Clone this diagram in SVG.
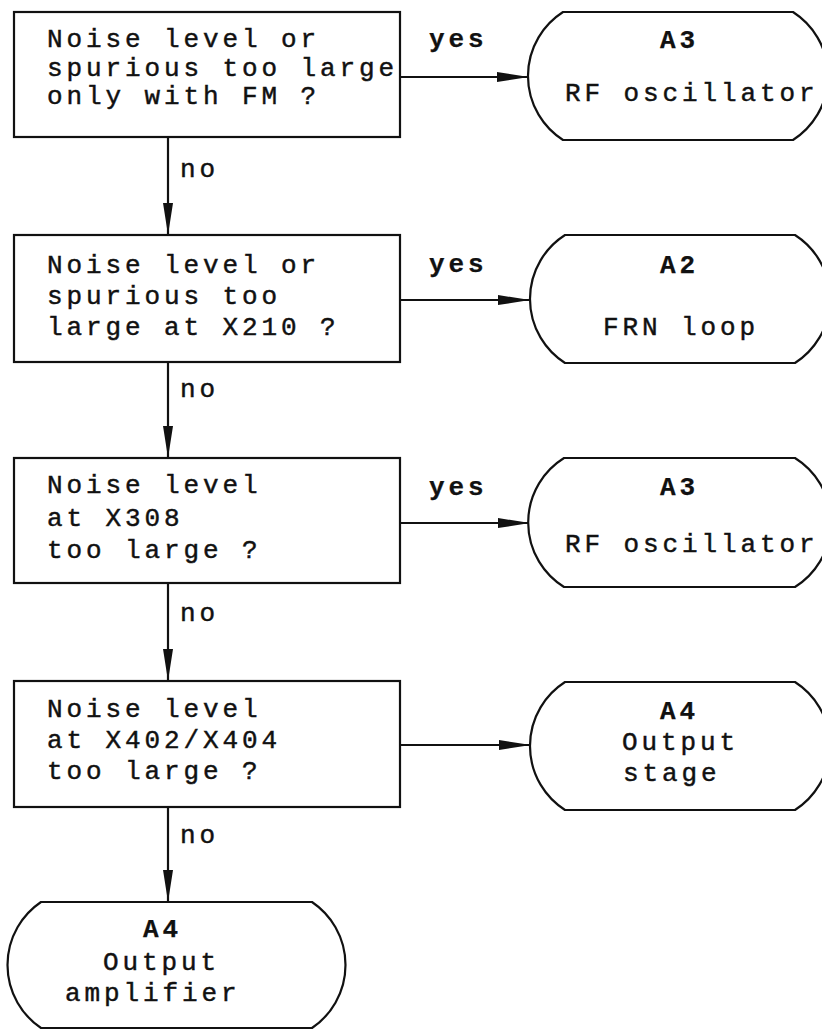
<svg xmlns="http://www.w3.org/2000/svg" width="822" height="1030" viewBox="0 0 822 1030">
<style>
  .box{fill:#fff;stroke:#111;stroke-width:2.2}
  .term{fill:#fff;stroke:#111;stroke-width:2.2}
  .t{font-family:"Liberation Mono","Courier New",monospace;font-size:26px;letter-spacing:3.9px;fill:#111;stroke:#111;stroke-width:0.45}
  .b{font-weight:bold;stroke-width:0.25}
  .edge{stroke:#111;stroke-width:2.2;fill:none}
</style>
<defs>
  <marker id="arr" markerUnits="userSpaceOnUse" markerWidth="34" markerHeight="12" refX="32" refY="6" orient="auto">
    <path d="M0,1 L32,6 L0,11 Z" fill="#111"/>
  </marker>
</defs>
<rect width="822" height="1030" fill="#fff"/>

<g id="connectors">
  <line class="edge" x1="168" y1="137" x2="168" y2="235" marker-end="url(#arr)"/>
  <line class="edge" x1="168" y1="362" x2="168" y2="458" marker-end="url(#arr)"/>
  <line class="edge" x1="168" y1="583" x2="168" y2="681" marker-end="url(#arr)"/>
  <line class="edge" x1="168" y1="807" x2="168" y2="902" marker-end="url(#arr)"/>
  <line class="edge" x1="400" y1="77" x2="529" y2="77" marker-end="url(#arr)"/>
  <line class="edge" x1="400" y1="300" x2="530" y2="300" marker-end="url(#arr)"/>
  <line class="edge" x1="400" y1="523" x2="530" y2="523" marker-end="url(#arr)"/>
  <line class="edge" x1="400" y1="745" x2="531" y2="745" marker-end="url(#arr)"/>
  <text class="t" x="180" y="177">no</text>
  <text class="t" x="180" y="397">no</text>
  <text class="t" x="180" y="621">no</text>
  <text class="t" x="180" y="843">no</text>
  <text class="t b" x="429" y="47">yes</text>
  <text class="t b" x="429" y="272">yes</text>
  <text class="t b" x="429" y="495">yes</text>
</g>

<g id="q1">
  <rect class="box" x="14" y="12" width="386" height="125"/>
  <text class="t" x="47" y="47">Noise level or</text>
  <text class="t" x="47" y="75.5">spurious too large</text>
  <text class="t" x="47" y="104">only with FM ?</text>
</g>
<g id="q2">
  <rect class="box" x="14" y="235" width="386" height="127"/>
  <text class="t" x="47" y="273">Noise level or</text>
  <text class="t" x="47" y="304">spurious too</text>
  <text class="t" x="47" y="335">large at X210 ?</text>
</g>
<g id="q3">
  <rect class="box" x="14" y="458" width="386" height="125"/>
  <text class="t" x="47" y="493">Noise level</text>
  <text class="t" x="47" y="526">at X308</text>
  <text class="t" x="47" y="558">too large ?</text>
</g>
<g id="q4">
  <rect class="box" x="14" y="681" width="386" height="126"/>
  <text class="t" x="47" y="717">Noise level</text>
  <text class="t" x="47" y="748">at X402/X404</text>
  <text class="t" x="47" y="779">too large ?</text>
</g>

<g id="t1">
  <path class="term" d="M563,12 H793 A76,76 0 0 1 793,140 H563 A76,76 0 0 1 563,12 Z"/>
  <text class="t b" x="660" y="48">A3</text>
  <text class="t" x="565" y="101">RF oscillator</text>
</g>
<g id="t2">
  <path class="term" d="M565,235 H795 A76,76 0 0 1 795,363 H565 A76,76 0 0 1 565,235 Z"/>
  <text class="t b" x="660" y="273">A2</text>
  <text class="t" x="603" y="335">FRN loop</text>
</g>
<g id="t3">
  <path class="term" d="M564,458 H795 A76,76 0 0 1 795,587 H564 A76,76 0 0 1 564,458 Z"/>
  <text class="t b" x="660" y="495">A3</text>
  <text class="t" x="565" y="552">RF oscillator</text>
</g>
<g id="t4">
  <path class="term" d="M565,682 H795 A76,76 0 0 1 795,810 H565 A76,76 0 0 1 565,682 Z"/>
  <text class="t b" x="660" y="719">A4</text>
  <text class="t" x="622" y="750">Output</text>
  <text class="t" x="623" y="781">stage</text>
</g>
<g id="t5">
  <path class="term" d="M41,902 H312 A76,76 0 0 1 312,1028 H41 A76,76 0 0 1 41,902 Z"/>
  <text class="t b" x="143" y="937">A4</text>
  <text class="t" x="103" y="970">Output</text>
  <text class="t" x="65" y="1001">amplifier</text>
</g>
</svg>
